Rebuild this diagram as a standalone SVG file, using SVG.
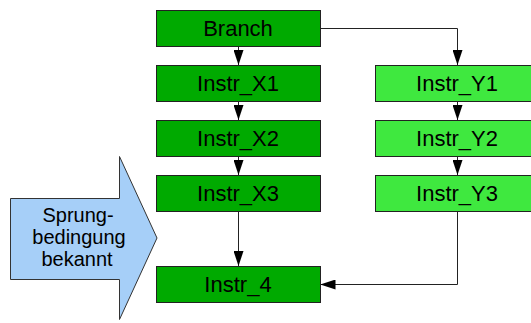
<svg xmlns="http://www.w3.org/2000/svg" width="531" height="323" viewBox="0 0 531 323">
  <style>
    .box { stroke: #222; stroke-width: 1; }
    .dark { fill: #00aa00; }
    .light { fill: #3fe83f; }
    .lbl { font-family: "Liberation Sans", Arial, sans-serif; font-size: 22px; fill: #000; text-anchor: middle; }
    .albl { font-family: "Liberation Sans", Arial, sans-serif; font-size: 20px; fill: #000; text-anchor: middle; }
    .conn { fill: none; stroke: #222; stroke-width: 1; }
  </style>
  <defs>
    <marker id="ah" markerUnits="userSpaceOnUse" markerWidth="15" markerHeight="10" refX="15" refY="5" orient="auto">
      <path d="M0,0 L15,5 L0,10 z" fill="#000"/>
    </marker>
  </defs>
  <rect width="531" height="323" fill="#fff"/>

  <g id="sprung">
    <path d="M10.5,198.5 L119.5,198.5 L119.5,156.5 L157,238 L119.5,319.5 L119.5,279.5 L10.5,279.5 Z" fill="#a6cff8" stroke="#333" stroke-width="1"/>
    <text class="albl" x="78" y="222">Sprung-</text>
    <text class="albl" x="79" y="244">bedingung</text>
    <text class="albl" x="77" y="266">bekannt</text>
  </g>

  <g id="connectors">
    <path class="conn" d="M320.5,28.5 L457.5,28.5 L457.5,65" marker-end="url(#ah)"/>
    <path class="conn" d="M238.5,46 L238.5,65" marker-end="url(#ah)"/>
    <path class="conn" d="M238.5,101 L238.5,120" marker-end="url(#ah)"/>
    <path class="conn" d="M238.5,156 L238.5,175" marker-end="url(#ah)"/>
    <path class="conn" d="M238.5,211 L238.5,266" marker-end="url(#ah)"/>
    <path class="conn" d="M457.5,101 L457.5,120" marker-end="url(#ah)"/>
    <path class="conn" d="M457.5,156 L457.5,175" marker-end="url(#ah)"/>
    <path class="conn" d="M457.5,211 L457.5,284.5 L320.5,284.5" marker-end="url(#ah)"/>
  </g>

  <g id="branch">
    <rect class="box dark" x="156.5" y="10.5" width="164" height="36"/>
    <text class="lbl" x="238" y="36">Branch</text>
  </g>
  <g id="instr_x1">
    <rect class="box dark" x="156.5" y="65.5" width="164" height="36"/>
    <text class="lbl" x="238" y="91">Instr_X1</text>
  </g>
  <g id="instr_x2">
    <rect class="box dark" x="156.5" y="120.5" width="164" height="36"/>
    <text class="lbl" x="238" y="146">Instr_X2</text>
  </g>
  <g id="instr_x3">
    <rect class="box dark" x="156.5" y="175.5" width="164" height="36"/>
    <text class="lbl" x="238" y="201">Instr_X3</text>
  </g>
  <g id="instr_4">
    <rect class="box dark" x="156.5" y="266.5" width="164" height="36"/>
    <text class="lbl" x="238" y="292">Instr_4</text>
  </g>
  <g id="instr_y1">
    <rect class="box light" x="375.5" y="65.5" width="164" height="36"/>
    <text class="lbl" x="457" y="91">Instr_Y1</text>
  </g>
  <g id="instr_y2">
    <rect class="box light" x="375.5" y="120.5" width="164" height="36"/>
    <text class="lbl" x="457" y="146">Instr_Y2</text>
  </g>
  <g id="instr_y3">
    <rect class="box light" x="375.5" y="175.5" width="164" height="36"/>
    <text class="lbl" x="457" y="201">Instr_Y3</text>
  </g>
</svg>
